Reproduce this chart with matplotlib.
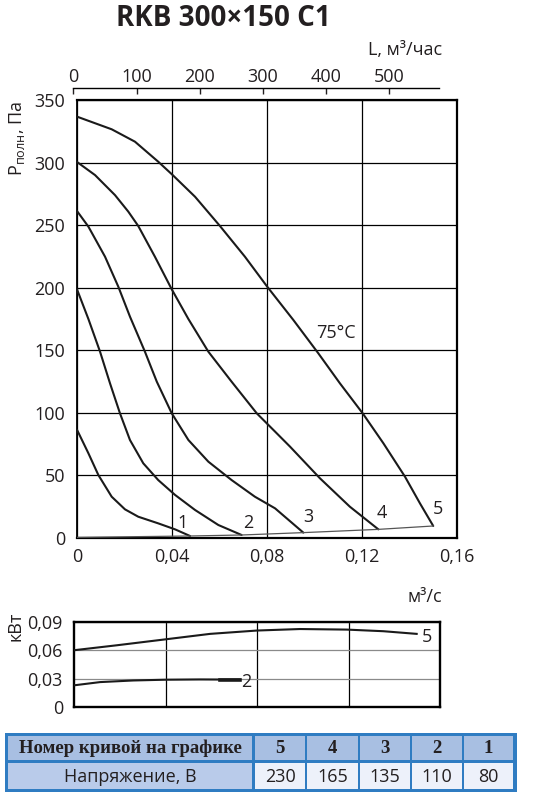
import matplotlib
matplotlib.use("Agg")
import matplotlib.pyplot as plt
from matplotlib.patches import Rectangle

plt.rcParams['font.family'] = ['Open Sans', 'DejaVu Sans']
plt.rcParams['mathtext.fontset'] = 'custom'
plt.rcParams['mathtext.rm'] = 'Open Sans'
plt.rcParams['mathtext.it'] = 'Open Sans:italic'
plt.rcParams['mathtext.bf'] = 'Open Sans:bold'

# ---------------- data ----------------
title = "RKB 300×150 C1"
x_ticks = [0, 0.04, 0.08, 0.12, 0.16]
x_tick_labels = ["0", "0,04", "0,08", "0,12", "0,16"]
y_ticks = [0, 50, 100, 150, 200, 250, 300, 350]
top_ticks = [0, 100, 200, 300, 400, 500]

c5_x = [0, 0.0146, 0.0244, 0.0342, 0.0403, 0.0497, 0.0602, 0.0707, 0.0801, 0.0911,
        0.1016, 0.1107, 0.1203, 0.129, 0.1381, 0.1444, 0.150]
c5_y = [336.7, 326.6, 316.7, 300.7, 290, 272.7, 249.3, 224.8, 200.8, 174.2,
        147.6, 123.6, 99.6, 75.7, 49, 27.7, 9.6]
c4_x = [0, 0.0076, 0.016, 0.0216, 0.0258, 0.0328, 0.0399, 0.0469, 0.0553, 0.0651,
        0.0757, 0.0834, 0.0897, 0.1023, 0.1149, 0.1269]
c4_y = [300.5, 290, 274, 260.8, 249.3, 224.8, 198.7, 175, 148.9, 124.9,
        99.6, 85, 73, 47.7, 25, 6.9]
c3_x = [0, 0.0048, 0.0118, 0.0174, 0.0223, 0.0286, 0.0336, 0.0399, 0.0469,
        0.0553, 0.0651, 0.0749, 0.0834, 0.0953]
c3_y = [261.3, 248.8, 224.8, 200.8, 176.9, 148.9, 124.9, 99.6, 78.3,
        61, 46.3, 33, 23.7, 4.3]
c2_x = [0, 0.0048, 0.0097, 0.0139, 0.0181, 0.0223, 0.0279, 0.0342, 0.0413, 0.0497,
        0.0595, 0.0693]
c2_y = [198.7, 175, 148.9, 123.6, 99.6, 78.3, 59.7, 46.3, 34.4, 22.4, 10.4, 2.4]
c1_x = [0, 0.0048, 0.009, 0.0146, 0.0202, 0.0258, 0.0342, 0.0413, 0.0476]
c1_y = [86.5, 67.7, 50.3, 33, 22.9, 17, 11.7, 6.9, 1.6]
sys_x = [0, 0.0476, 0.0693, 0.0953, 0.1269, 0.150]
sys_y = [0.5, 1.6, 2.4, 4.3, 6.9, 9.6]

curve_labels = ["1", "2", "3", "4", "5"]
label_x = [0.0445, 0.0722, 0.0974, 0.1283, 0.1521]
label_y = [12.2, 12.2, 17, 19.7, 22.9]
temp_label = "75°C"
temp_pos = (0.109, 164.2)

p5_x = [0, 0.0187, 0.0398, 0.0595, 0.0799, 0.0988, 0.1192, 0.1352, 0.1498]
p5_y = [0.060, 0.0652, 0.0714, 0.0772, 0.0807, 0.0823, 0.0817, 0.080, 0.0772]
p2_x = [0, 0.0114, 0.0259, 0.0398, 0.0551, 0.0638, 0.0726]
p2_y = [0.0231, 0.0265, 0.0282, 0.029, 0.0293, 0.0292, 0.0292]
p_ticks = [0, 0.03, 0.06, 0.09]
p_tick_labels = ["0", "0,03", "0,06", "0,09"]

table_row1 = ["Номер кривой на графике", "5", "4", "3", "2", "1"]
table_row2 = ["Напряжение, В", "230", "165", "135", "110", "80"]

# ---------------- figure ----------------
W, H = 544, 796
fig = plt.figure(figsize=(W / 100, H / 100), dpi=100)

def fx(px):
    return px / W

def fy(py):
    return 1 - py / H

TXT = '#231f20'
FS = 13

# main axes
ax = fig.add_axes([fx(77), fy(538), (457 - 77) / W, (538 - 100) / H])
ax.set_xlim(0, 0.16)
ax.set_ylim(0, 350)
ax.set_xticks(x_ticks)
ax.set_xticklabels(x_tick_labels)
ax.set_yticks(y_ticks)
ax.grid(True, color='black', lw=0.9)
ax.tick_params(axis='both', length=0, labelsize=FS, colors=TXT)
ax.tick_params(axis='x', pad=7)
ax.tick_params(axis='y', pad=8.5)
for s in ['top', 'right', 'bottom']:
    ax.spines[s].set_linewidth(1.6)
ax.spines['left'].set_linewidth(1.3)

for cx, cy in [(c5_x, c5_y), (c4_x, c4_y), (c3_x, c3_y), (c2_x, c2_y), (c1_x, c1_y)]:
    ax.plot(cx, cy, color='#1a1a1a', lw=1.5, solid_capstyle='round',
            solid_joinstyle='round', zorder=3)
ax.plot(sys_x, sys_y, color='#555555', lw=0.9, zorder=3)
for t, lx, ly in zip(curve_labels, label_x, label_y):
    ax.text(lx, ly, t, fontsize=FS, color=TXT, ha='center', va='center', zorder=4)
ax.text(temp_pos[0], temp_pos[1], temp_label, fontsize=FS, color=TXT,
        ha='center', va='center', zorder=4)

# top axis (L, m3/h)
axt = fig.add_axes([fx(73.3), fy(88.3) - 0.01, 366 / W, 0.01])
axt.set_xlim(0, 579)
axt.set_ylim(0, 1)
axt.patch.set_visible(False)
for s in ['bottom', 'left', 'right']:
    axt.spines[s].set_visible(False)
axt.spines['top'].set_linewidth(1.0)
axt.set_yticks([])
axt.xaxis.set_ticks_position('top')
axt.xaxis.set_label_position('top')
axt.set_xticks(top_ticks)
axt.set_xticklabels([str(v) for v in top_ticks])
axt.tick_params(axis='x', direction='in', length=4.5, width=1.0, pad=2,
                labelsize=FS, colors=TXT)

fig.text(fx(223), fy(19), title, fontsize=20, fontweight='bold', color=TXT,
         ha='center', va='center')
fig.text(fx(442), fy(50), "L, м³/час", fontsize=FS, color=TXT, ha='right', va='center')
fig.text(fx(17), fy(138), r"Р$_{\mathrm{полн}}$, Па", fontsize=FS, color=TXT,
         rotation=90, ha='center', va='center')
fig.text(fx(425), fy(597), "м³/с", fontsize=FS, color=TXT, ha='center', va='center')

# power axes
axp = fig.add_axes([fx(74), fy(707.3), 366 / W, (707.3 - 621.7) / H])
axp.set_xlim(0, 0.16)
axp.set_ylim(0, 0.09)
axp.set_xticks([0.04, 0.08, 0.12])
axp.set_xticklabels([])
axp.set_yticks(p_ticks)
axp.set_yticklabels(p_tick_labels)
axp.xaxis.grid(True, color='black', lw=0.9)
axp.yaxis.grid(True, color='#8a8a8a', lw=0.9)
axp.tick_params(axis='both', length=0, labelsize=FS, colors=TXT)
axp.tick_params(axis='y', pad=8)
for s in axp.spines.values():
    s.set_linewidth(1.7)
axp.plot(p5_x, p5_y, color='#1a1a1a', lw=1.5, zorder=3)
axp.plot(p2_x, p2_y, color='#1a1a1a', lw=1.5, zorder=3)
axp.plot(p2_x[-2:], p2_y[-2:], color='#1a1a1a', lw=2.6, zorder=3)
axp.text(0.1542, 0.0738, "5", fontsize=FS, color=TXT, ha='center', va='center')
axp.text(0.0755, 0.0265, "2", fontsize=FS, color=TXT, ha='center', va='center')
fig.text(fx(15), fy(626), "кВт", fontsize=FS, color=TXT, rotation=90,
         ha='center', va='center')

# table
axT = fig.add_axes([0, 0, 1, 1], zorder=-1)
axT.set_xlim(0, W)
axT.set_ylim(H, 0)
axT.axis('off')
BORDER = '#2f7cc2'
HEAD = '#a8bfe2'
LAB2 = '#b9cbea'
VAL2 = '#edf1fa'
axT.add_patch(Rectangle((5, 733.3), 511.7, 58.4, facecolor=BORDER, edgecolor='none'))
col_edges = [(8.3, 252.3), (255, 305), (307.3, 357.7), (360, 410), (412.3, 461.7), (464, 513.3)]
row_edges = [(736, 760), (762.7, 789.3)]
for r, (row, (y0, y1)) in enumerate(zip([table_row1, table_row2], row_edges)):
    for c, (txt, (x0, x1)) in enumerate(zip(row, col_edges)):
        if r == 0:
            fc = HEAD
        else:
            fc = LAB2 if c == 0 else VAL2
        axT.add_patch(Rectangle((x0, y0), x1 - x0, y1 - y0, facecolor=fc, edgecolor='none'))
        xc = (x0 + x1) / 2 if c > 0 else 130
        if r == 0:
            axT.text(xc, (y0 + y1) / 2 + 0.5, txt, fontsize=13.5, fontweight='bold',
                     family='Liberation Serif', color=TXT, ha='center', va='center')
        else:
            axT.text(xc, (y0 + y1) / 2 + 0.5, txt, fontsize=FS, color=TXT,
                     ha='center', va='center')

fig.savefig("out.png", dpi=100)
